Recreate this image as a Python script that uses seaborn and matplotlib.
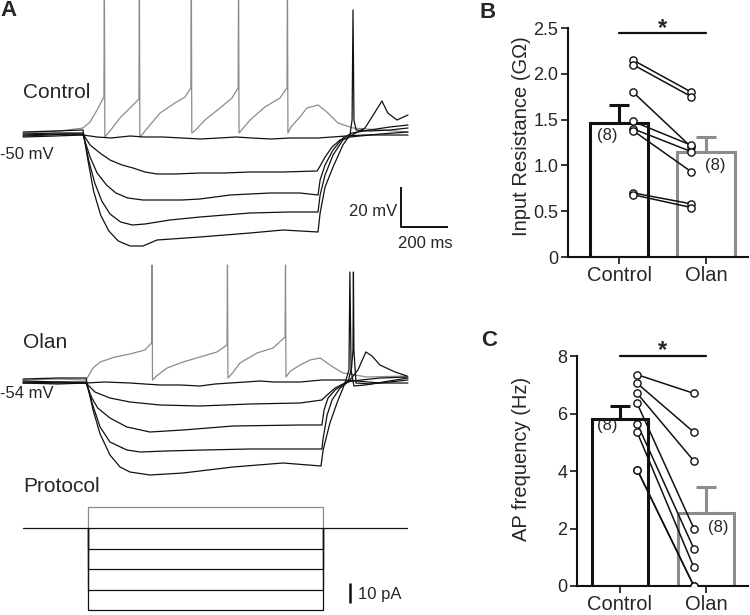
import numpy as np
import pandas as pd
import matplotlib
matplotlib.use("Agg")
import matplotlib.pyplot as plt
import seaborn as sns

# ---------------- data: panel B / C ----------------
conditions = ["Control", "Olan"]
rin_control = [2.15, 2.10, 1.80, 1.48, 1.40, 1.38, 0.70, 0.68]
rin_olan = [1.80, 1.75, 1.20, 1.22, 1.15, 0.93, 0.58, 0.54]
ap_control = [7.35, 7.05, 6.70, 6.35, 5.65, 5.35, 4.05, 4.05]
ap_olan = [6.70, 5.35, 4.35, 2.00, 1.30, 0.65, 0.00, 0.00]
rin_ticks = [0, 0.5, 1.0, 1.5, 2.0, 2.5]
rin_ticklabels = ["0", "0.5", "1.0", "1.5", "2.0", "2.5"]
ap_ticks = [0, 2, 4, 6, 8]
n_label = "(8)"

# ---------------- data: panel A traces (time ms, membrane potential mV) ----------------
ctrl_p10 = [(-255, -49), (-98, -48), (0, -46.5), (30, -43.5), (60, -37.5), (89, -31), (91, 30), (93, -51),
            (100, -50), (115, -48), (157, -41.5), (200, -36.5), (238, -32), (240, 30), (242, -51), (250, -50),
            (285, -45), (328, -39), (391, -34), (434, -31), (459, -26.5), (461, 30), (463, -49), (475, -48),
            (519, -42.5), (583, -36.5), (634, -31.5), (660, -26.5), (662, 30), (664, -49), (675, -47.5),
            (711, -42.5), (774, -36), (838, -31.5), (868, -26.5), (870, 30), (872, -49), (885, -46),
            (923, -41), (953, -36.5), (1000, -35), (1038, -38.5), (1085, -44), (1149, -46.5), (1383, -48.5)]
ctrl_0 = [(-255, -50.5), (-150, -50), (-50, -49.5), (0, -50), (60, -51), (120, -51.5), (200, -50.5),
          (260, -51), (340, -51), (420, -51.5), (500, -52), (580, -51.5), (650, -51), (720, -51.5),
          (800, -52), (880, -51.5), (1000, -51.5), (1060, -51), (1120, -50.5), (1200, -50), (1383, -50)]
ctrl_m10 = [(-255, -50), (-120, -49.5), (0, -49.5), (30, -55), (72, -59), (115, -62.5), (166, -65),
            (213, -66.5), (264, -68.5), (315, -69.5), (391, -69.5), (498, -69), (600, -69), (711, -68.5),
            (850, -68.5), (996, -68), (1009, -65.5), (1030, -61), (1060, -56), (1094, -52.5), (1136, -51),
            (1264, -49.5), (1383, -48.5)]
ctrl_m20 = [(-255, -51), (-120, -50.5), (0, -50), (30, -61), (60, -69), (100, -75), (140, -79),
            (190, -81.5), (255, -82.5), (328, -82.5), (420, -82.5), (498, -82), (626, -80), (796, -79),
            (923, -79), (1000, -80), (1009, -72.5), (1030, -65), (1064, -57.5), (1106, -51.5), (1145, -49),
            (1221, -47.5), (1306, -46), (1383, -45)]
ctrl_m30 = [(-255, -49.5), (-120, -49), (0, -49), (25, -63), (50, -74), (80, -83), (115, -89.5),
            (160, -93.5), (210, -95), (264, -94.5), (370, -92.5), (498, -91), (711, -89), (881, -88.5),
            (1000, -88.5), (1009, -80), (1030, -70), (1064, -60), (1106, -52.5), (1145, -50), (1200, -46.5),
            (1243, -38.5), (1272, -33), (1297, -39), (1336, -42.5), (1383, -40)]
ctrl_m40 = [(-255, -48.5), (-120, -48), (0, -47.5), (20, -62), (45, -78), (75, -90), (110, -98),
            (150, -103), (200, -105.5), (255, -105.5), (315, -102.5), (498, -101), (711, -99), (851, -97.5),
            (1000, -98.5), (1009, -89), (1030, -76), (1064, -66), (1106, -55), (1136, -50), (1145, -42.5),
            (1149, 12.5), (1153, -42.5), (1162, -47.5), (1221, -48), (1306, -47.5), (1383, -46.5)]

olan_p10 = [(-268, -53), (-111, -52.5), (0, -53), (30, -47), (60, -44), (123, -41.5), (187, -40),
            (251, -38), (279, -34.5), (281, 4.5), (283, -53), (300, -51), (345, -47), (413, -44),
            (485, -41.5), (557, -39), (600, -35.5), (602, 4.5), (604, -52), (620, -50), (655, -44.5),
            (728, -39.5), (796, -37), (847, -31.5), (849, 4.5), (851, -51.5), (870, -48.5), (911, -45.5),
            (953, -43), (996, -42), (1051, -46.5), (1094, -49.5), (1196, -51.5), (1366, -51)]
olan_0 = [(-268, -54), (-150, -54.5), (0, -54.5), (80, -54), (187, -54.5), (250, -55), (315, -55.5),
          (400, -55.5), (485, -56), (550, -55), (613, -54.5), (680, -54), (740, -53.5), (800, -54),
          (911, -54), (1004, -53), (1102, -53), (1251, -54.5), (1370, -54.5)]
olan_m10 = [(-268, -54.5), (-120, -55), (0, -54.5), (38, -59), (102, -62), (187, -64), (315, -65.5),
            (485, -66), (698, -65), (911, -64.5), (1004, -63), (1021, -61), (1060, -57), (1102, -54.5),
            (1132, -53.5), (1251, -52), (1370, -51.5)]
olan_m20 = [(-268, -53.5), (-120, -54), (0, -54.5), (25, -62), (50, -67), (102, -72), (174, -76.5),
            (272, -79), (413, -78), (626, -76), (911, -75.5), (1004, -75.5), (1013, -68), (1030, -62),
            (1060, -58), (1102, -54.5), (1123, -53), (1157, -48), (1191, -39), (1217, -41), (1251, -45.5),
            (1315, -49), (1366, -51)]
olan_m30 = [(-268, -54.5), (-120, -54), (0, -54), (30, -66), (60, -76.5), (102, -84), (174, -88),
            (230, -89), (340, -88.5), (500, -88), (700, -87.5), (900, -87.5), (1004, -87.5), (1008, -83),
            (1026, -70.5), (1047, -63), (1081, -57), (1115, -54), (1130, -47), (1136, -38), (1138, 1),
            (1140, -38), (1149, -54.5), (1209, -55), (1370, -53)]
olan_m40 = [(-268, -52.5), (-120, -52), (0, -52), (30, -68), (60, -80), (102, -90.5), (145, -96.5),
            (187, -99), (272, -100.5), (413, -99.5), (626, -96.5), (838, -94.5), (1000, -96), (1009, -88),
            (1038, -74.5), (1068, -64.5), (1102, -54.5), (1119, -48), (1123, 1), (1128, -48), (1140, -56),
            (1187, -55.5), (1370, -52)]

# protocol (pA)
protocol_steps = [10, -10, -20, -30, -40]
protocol_on, protocol_off = 0, 1000
protocol_start, protocol_end = -277, 1357

# ---------------- style ----------------
sns.set_theme(style="ticks")
plt.rcParams["font.family"] = ["Liberation Sans", "DejaVu Sans"]
BLACK = "#111111"
GRAY = "#8c8c8c"

W, H = 750, 615
fig = plt.figure(figsize=(7.5, 6.15), dpi=100)


def rect(x0, y0, x1, y1):
    return [x0 / W, 1 - y1 / H, (x1 - x0) / W, (y1 - y0) / H]


def ftext(x, y, s, **kw):
    fig.text(x / W, 1 - y / H, s, **kw)


PX_PER_MS = 0.235

# ---- Control traces
axc = fig.add_axes(rect(0, 0, 490, 255))
axc.set_xlim(-83 / PX_PER_MS, (490 - 83) / PX_PER_MS)
axc.set_ylim(-110, 17.5)
for tr, col in [(ctrl_p10, GRAY), (ctrl_0, BLACK), (ctrl_m10, BLACK), (ctrl_m20, BLACK),
                (ctrl_m30, BLACK), (ctrl_m40, BLACK)]:
    a = np.array(tr)
    axc.plot(a[:, 0], a[:, 1], color=col, lw=0.9)
# scale bar 20 mV / 200 ms
axc.plot([1353, 1353, 1553], [-76, -96, -96], color=BLACK, lw=1.4, solid_capstyle="butt")
axc.axis("off")

# ---- Olan traces
axo = fig.add_axes(rect(0, 255, 490, 490))
axo.set_xlim(-86 / PX_PER_MS, (490 - 86) / PX_PER_MS)
axo.set_ylim(-108, 9.5)
for tr, col in [(olan_p10, GRAY), (olan_0, BLACK), (olan_m10, BLACK), (olan_m20, BLACK),
                (olan_m30, BLACK), (olan_m40, BLACK)]:
    a = np.array(tr)
    axo.plot(a[:, 0], a[:, 1], color=col, lw=0.9)
axo.axis("off")

# ---- Protocol
axp = fig.add_axes(rect(0, 490, 490, 615))
axp.set_xlim(-88 / PX_PER_MS, (490 - 88) / PX_PER_MS)
axp.set_ylim(-42.2, 18.4)
for amp in protocol_steps:
    col = GRAY if amp > 0 else BLACK
    axp.plot([protocol_on, protocol_on, protocol_off, protocol_off],
             [0, amp, amp, 0], color=col, lw=0.9, zorder=1 if amp > 0 else 2)
axp.plot([protocol_start, protocol_end], [0, 0], color=BLACK, lw=0.9, zorder=3)
axp.plot([1115, 1115], [-36.5, -26.5], color=BLACK, lw=1.8, solid_capstyle="butt")
axp.axis("off")

for a_ in (axc, axo, axp):
    a_.patch.set_alpha(0)

# panel A texts
ftext(0, 11, "A", fontsize=16, weight="bold", ha="left", va="center")
ftext(23, 93, "Control", fontsize=15, ha="left", va="center")
ftext(0, 155, "-50 mV", fontsize=12, ha="left", va="center")
ftext(23, 343, "Olan", fontsize=15, ha="left", va="center")
ftext(0, 394, "-54 mV", fontsize=12, ha="left", va="center")
ftext(23, 487, "Protocol", fontsize=15, ha="left", va="center")
ftext(397, 212, "20 mV", fontsize=12, ha="right", va="center")
ftext(425, 244, "200 ms", fontsize=12, ha="center", va="center")
ftext(358, 595, "10 pA", fontsize=12, ha="left", va="center")
ftext(488, 12, "B", fontsize=16, weight="bold", ha="center", va="center")
ftext(489, 340, "C", fontsize=16, weight="bold", ha="center", va="center")


def bar_panel(ax, ctrl, olan, ylim, ticks, ticklabels, ylabel, xl, ctrl_off, olan_off,
              sig_y, star_y, n_pos, label_xy):
    df = pd.DataFrame({"cond": [conditions[0]] * len(ctrl) + [conditions[1]] * len(olan),
                       "val": list(ctrl) + list(olan)})
    sns.barplot(data=df, x="cond", y="val", order=conditions, errorbar=None, width=0.66,
                color="white", linewidth=2.2, ax=ax, zorder=2)
    for p, col in zip(ax.patches, [BLACK, GRAY]):
        p.set_facecolor("white")
        p.set_edgecolor(col)
    for i, (vals, col) in enumerate([(ctrl, BLACK), (olan, GRAY)]):
        v = np.asarray(vals)
        m = v.mean()
        se = v.std(ddof=1) / np.sqrt(len(v))
        ax.errorbar([i], [m], yerr=[[0], [se]], fmt="none", ecolor=col, elinewidth=2.2,
                    capsize=7.2, capthick=2.2, zorder=1)
    for c, o in zip(ctrl, olan):
        ax.plot([ctrl_off, 1 + olan_off], [c, o], color=BLACK, lw=1.1, zorder=3,
                marker="o", ms=5.2, mfc="white", mec=BLACK, mew=1.0)
    ax.set_xlim(*xl)
    ax.set_ylim(*ylim)
    ax.set_yticks(ticks)
    ax.set_yticklabels(ticklabels)
    ax.set_xlabel("")
    ax.set_ylabel(ylabel, fontsize=14.5, va="center")
    ax.yaxis.set_label_coords(*label_xy)
    ax.tick_params(axis="y", labelsize=13, length=5, width=1.3, direction="out", pad=2)
    ax.tick_params(axis="x", labelsize=14.5, length=5, width=1.3, direction="out", pad=1.5)
    for s in ("left", "bottom"):
        ax.spines[s].set_linewidth(1.5)
        ax.spines[s].set_color(BLACK)
    sns.despine(ax=ax)
    ax.plot([0, 1], [sig_y, sig_y], color=BLACK, lw=1.6, clip_on=False)
    ax.text(0.5, star_y, "*", fontsize=17, weight="bold", ha="center", va="center", clip_on=False)
    ax.text(n_pos[0][0], n_pos[0][1], n_label, fontsize=12, ha="center", va="center", zorder=4)
    ax.text(n_pos[1][0], n_pos[1][1], n_label, fontsize=12, ha="center", va="center", zorder=4)


axb = fig.add_axes(rect(568, 28, 748, 257))
bar_panel(axb, rin_control, rin_olan, (0, 2.5), rin_ticks, rin_ticklabels,
          "Input Resistance (G\u03a9)", (-0.586, 1.48), 0.16, -0.17,
          2.445, 2.49, [(-0.14, 1.33), (1.1, 1.0)], (-0.261, 0.528))

axcc = fig.add_axes(rect(577, 356, 748, 586))
bar_panel(axcc, ap_control, ap_olan, (0, 8), ap_ticks, [str(t) for t in ap_ticks],
          "AP frequency (Hz)", (-0.5, 1.49), 0.2, -0.14,
          8.0, 8.2, [(-0.15, 5.6), (1.14, 2.05)], (-0.327, 0.552))

fig.savefig("out.png", dpi=100)
